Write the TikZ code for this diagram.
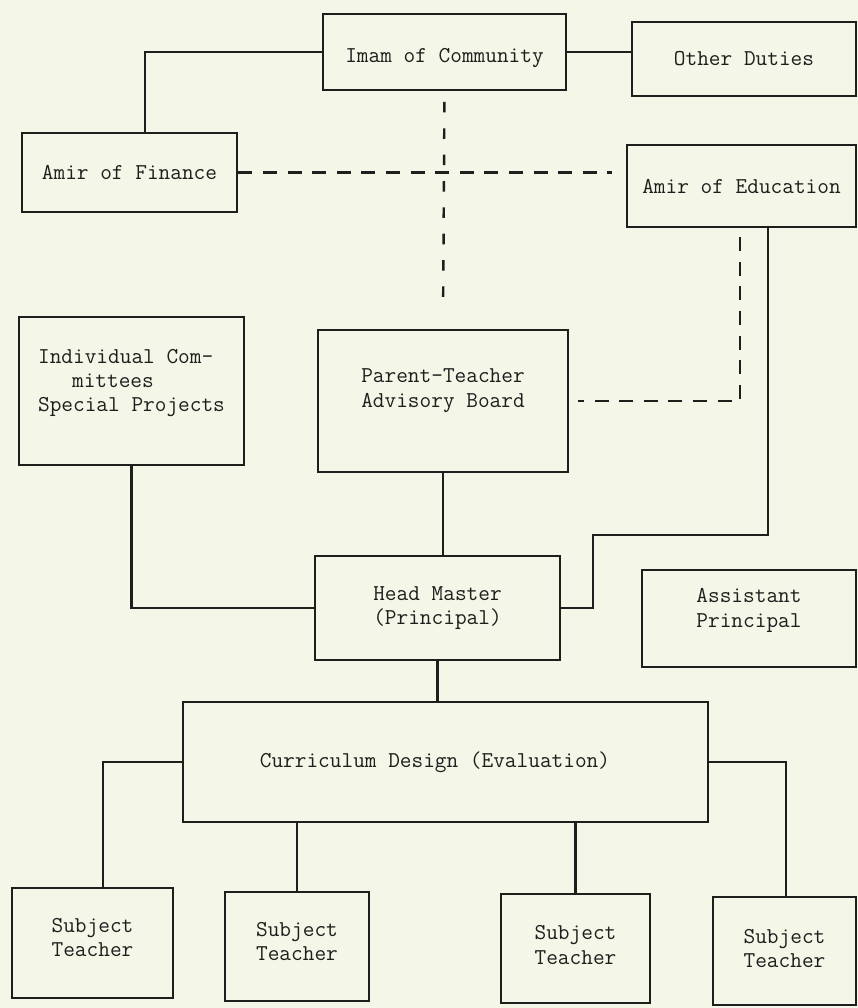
\documentclass[tikz,border=0pt]{standalone}
\usepackage{fontspec}
\definecolor{paper}{RGB}{244,246,232}
\definecolor{ink}{RGB}{30,30,28}
\begin{document}
\begin{tikzpicture}[x=0.02cm,y=-0.02cm,
  wh/.style 2 args={minimum width=#1*0.02cm, minimum height=#2*0.02cm},
  txt/.style={text=ink, align=center, inner sep=0pt,
    font=\ttfamily\fontsize{12.9}{13.9}\selectfont},
  box/.style={draw=ink, line width=1.6pt, rectangle, inner sep=0pt, txt},
  conn/.style={draw=ink, line width=1.2pt},
  dashconn/.style={draw=ink, line width=1.4pt, dash pattern=on 8pt off 6pt}]
\fill[paper] (0,0) rectangle (858,1008);
\useasboundingbox (0,0) rectangle (858,1008);

\node[box, wh={243}{76}] (imam) at (444.5,52) {};
\node[txt, yshift=-3.4pt] at (imam.center) {Imam of Community};
\node[box, wh={224}{74}] (other) at (744,59) {Other Duties};
\node[box, wh={215}{79}] (finance) at (129.5,172.5) {Amir of Finance};
\node[box, wh={229}{82}] (edu) at (741.5,186) {Amir of Education};
\node[box, wh={225}{148}] (indiv) at (131.5,391) {};
\node[txt, align=left, yshift=4.5pt] at (indiv.center)
  {Individual Com-\\\hspace*{1.5em}mittees\\Special Projects};
\node[box, wh={250}{142}] (ptab) at (443,401) {};
\node[txt, yshift=6pt] at (ptab.center) {Parent-Teacher\\Advisory Board};
\node[box, wh={245}{104}] (head) at (437.5,608) {Head Master\\(Principal)};
\node[box, wh={214}{97}] (asst) at (749,618.5) {};
\node[txt, yshift=4.5pt] at (asst.center) {Assistant\\Principal};
\node[box, wh={525}{120}] (curr) at (445.5,762) {};
\node[txt, xshift=-6pt] at (curr.center) {Curriculum Design (Evaluation)};
\node[box, wh={161}{110}] (st1) at (92.5,943) {};
\node[txt, yshift=3pt] at (st1.center) {Subject\\Teacher};
\node[box, wh={144}{109}] (st2) at (297,946.5) {};
\node[txt, yshift=3pt] at (st2.center) {Subject\\Teacher};
\node[box, wh={149}{109}] (st3) at (575.5,948.5) {};
\node[txt, yshift=2pt] at (st3.center) {Subject\\Teacher};
\node[box, wh={143}{108}] (st4) at (784.5,951) {};
\node[txt, yshift=1.5pt] at (st4.center) {Subject\\Teacher};

\coordinate (f1) at (145,0);
\coordinate (d1) at (740,0);
\coordinate (e1) at (768,535);
\coordinate (e2) at (593,535);
\coordinate (s1) at (103,0);
\coordinate (s4) at (786,0);

\draw[conn] (imam.east) -- (imam.east -| other.west);
\draw[conn] (imam.west) -| (finance.north -| f1);
\draw[dashconn, shorten >=8pt] (finance.east) -- (finance.east -| edu.west);
\draw[dashconn, dash pattern=on 6pt off 9pt, shorten <=6pt, shorten >=10pt] (imam.south) -- (ptab.north);
\draw[dashconn, shorten <=5pt, shorten >=5pt] (edu.south -| d1) |- (ptab.east);
\draw[conn] (edu.south -| e1) -- (e1) -- (e2) |- (head.east);
\draw[conn] (indiv.south) |- (head.west);
\draw[conn] (ptab.south) -- (ptab.south |- head.north);
\draw[conn] (head.south) -- (head.south |- curr.north);
\draw[conn] (curr.west) -| (st1.north -| s1);
\draw[conn] (curr.south -| st2.north) -- (st2.north);
\draw[conn] (curr.south -| st3.north) -- (st3.north);
\draw[conn] (curr.east) -| (st4.north -| s4);
\end{tikzpicture}
\end{document}
